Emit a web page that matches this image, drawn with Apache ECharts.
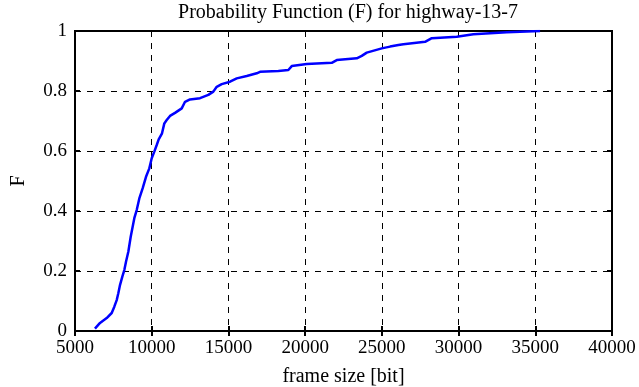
<!DOCTYPE html>
<html><head><meta charset="utf-8">
<script src="https://cdn.jsdelivr.net/npm/echarts@6/dist/echarts.min.js"></script>
<style>html,body{margin:0;padding:0;background:#fff}#c{width:639px;height:387px}</style>
</head><body><div id="c"></div>
<script>
const frameSize = [6300,6630,7066,7392,7563,7718,7823,7933,8085,8214,8324,8475,8631,8761,8866,9022,9192,9413,9628,9844,10000,10170,10326,10456,10672,10822,10978,11193,11519,11956,12171,12497,13149,13690,14016,14237,14563,15104,15541,16193,16845,17060,18253,18905,19127,20105,21734,22060,23364,23690,24016,24994,25535,26077,26404,27817,28253,29883,30965,33142,35313];
const probF = [0.008,0.027,0.043,0.060,0.081,0.103,0.126,0.153,0.181,0.203,0.231,0.264,0.314,0.348,0.376,0.403,0.442,0.476,0.514,0.542,0.576,0.598,0.620,0.639,0.659,0.692,0.703,0.717,0.727,0.742,0.764,0.772,0.776,0.787,0.798,0.814,0.823,0.831,0.842,0.850,0.859,0.864,0.867,0.870,0.883,0.890,0.894,0.903,0.909,0.917,0.928,0.942,0.948,0.953,0.956,0.964,0.976,0.981,0.989,0.996,1.0];
const titleText = 'Probability Function (F) for highway-13-7';
const xName = 'frame size [bit]';
const yName = 'F';
const FONT = '"Liberation Serif", "DejaVu Serif", serif';
const chart = echarts.init(document.getElementById('c'), null, {renderer:'canvas'});
const dash = {color:'#000', type:[6,6], width:1};
chart.setOption({
  animation:false,
  backgroundColor:'#fff',
  title:{text:titleText, left:343, textAlign:'center', top:-2, textStyle:{fontFamily:FONT, fontWeight:'normal', fontSize:20, color:'#000'}},
  grid:{left:75, right:27, top:31, bottom:56, containLabel:false, outerBoundsMode:'none', show:true, borderColor:'#000', borderWidth:2, backgroundColor:'transparent'},
  xAxis:[{type:'value', min:5000, max:40000, interval:5000, position:'bottom',
    name:xName, nameLocation:'middle', nameGap:36,
    nameTextStyle:{fontFamily:FONT, fontSize:20, color:'#000'},
    axisLine:{show:true, lineStyle:{color:'#000', width:2}},
    axisTick:{show:true, inside:true, length:5, lineStyle:{color:'#000', width:2}},
    axisLabel:{fontFamily:FONT, fontSize:19, color:'#000', margin:8, formatter:v=>String(v)},
    splitLine:{show:true, lineStyle:dash}},
   {type:'value', min:5000, max:40000, interval:5000, position:'top',
    axisLine:{show:false}, axisLabel:{show:false}, splitLine:{show:false},
    axisTick:{show:true, inside:true, length:5, lineStyle:{color:'#000', width:2}}}],
  yAxis:[{type:'value', min:0, max:1, interval:0.2, position:'left',
    name:yName, nameLocation:'middle', nameGap:56,
    nameTextStyle:{fontFamily:FONT, fontSize:20, color:'#000', verticalAlign:'middle'},
    axisLine:{show:true, lineStyle:{color:'#000', width:2}},
    axisTick:{show:true, inside:true, length:5, lineStyle:{color:'#000', width:2}},
    axisLabel:{fontFamily:FONT, fontSize:19, color:'#000', margin:8},
    splitLine:{show:true, lineStyle:dash}},
   {type:'value', min:0, max:1, interval:0.2, position:'right',
    axisLine:{show:false}, axisLabel:{show:false}, splitLine:{show:false},
    axisTick:{show:true, inside:true, length:5, lineStyle:{color:'#000', width:2}}}],
  series:[{type:'line', xAxisIndex:0, yAxisIndex:0, showSymbol:false, symbol:'none',
    lineStyle:{color:'#0000ff', width:2.5}, data:frameSize.map((x,i)=>[x, probF[i]])}]
});
</script></body></html>
